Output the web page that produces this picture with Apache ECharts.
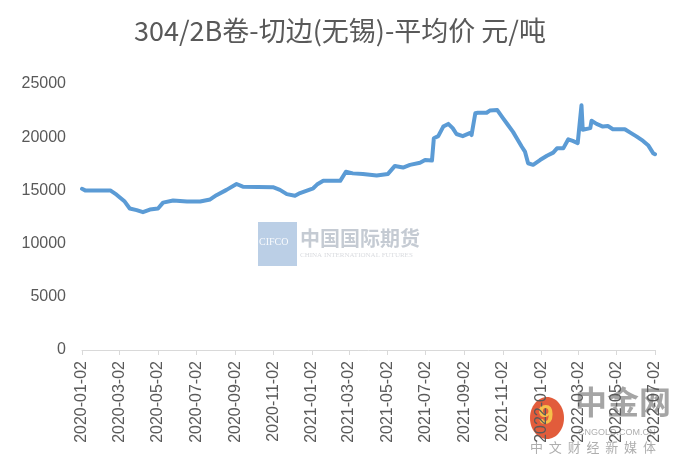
<!DOCTYPE html>
<html>
<head>
<meta charset="utf-8">
<script src="https://cdn.jsdelivr.net/npm/echarts@6/dist/echarts.min.js"></script>
<style>html,body{margin:0;padding:0;background:#fff;}#c{width:680px;height:469px;}</style>
</head>
<body>
<div id="c"></div>
<script>
var titleText = '304/2B卷-切边(无锡)-平均价 元/吨';
var startDate = '2020-01-02';
var endDate = '2022-07-02';
var yTicks = [0, 5000, 10000, 15000, 20000, 25000];

var pointDates = [
'2020-01-02','2020-01-07','2020-02-16','2020-02-26','2020-03-10','2020-03-18','2020-03-29','2020-04-08','2020-04-19','2020-05-02',
'2020-05-10','2020-05-26','2020-06-17','2020-07-08','2020-07-24','2020-08-03','2020-08-19','2020-09-04','2020-09-14','2020-11-01',
'2020-11-12','2020-11-23','2020-12-06','2020-12-14','2021-01-04','2021-01-10','2021-01-20','2021-02-16','2021-02-25','2021-03-08',
'2021-03-24','2021-04-15','2021-05-03','2021-05-14','2021-05-27','2021-06-07','2021-06-23','2021-07-01','2021-07-12','2021-07-15',
'2021-07-22','2021-07-30','2021-08-07','2021-08-14','2021-08-20','2021-08-30','2021-09-11','2021-09-13','2021-09-19','2021-09-23',
'2021-10-07','2021-10-12','2021-10-24','2021-11-02','2021-11-10','2021-11-18','2021-11-24','2021-12-02','2021-12-07','2021-12-12',
'2021-12-20','2021-12-31','2022-01-11','2022-01-21','2022-01-27','2022-02-06','2022-02-14','2022-02-21','2022-03-01','2022-03-07',
'2022-03-09','2022-03-21','2022-03-23','2022-03-31','2022-04-10','2022-04-18','2022-04-26','2022-05-15','2022-05-23','2022-06-03',
'2022-06-13','2022-06-21','2022-06-29','2022-07-02'
];
var pointValues = [
15150,15000,15000,14600,13950,13300,13150,12950,13200,13300,
13850,14050,13950,13950,14150,14550,15050,15600,15350,15300,
15050,14650,14500,14750,15200,15550,15900,15900,16750,16600,
16550,16400,16550,17300,17150,17400,17600,17850,17800,19900,
20100,21000,21250,20850,20300,20100,20400,20200,22250,22300,
22300,22500,22550,21800,21150,20500,19900,19100,18650,17550,
17400,17850,18250,18550,18950,18950,19800,19650,19450,23000,
20700,20850,21550,21250,21000,21050,20750,20750,20450,20050,
19650,19250,18500,18400
];

// calendar-day categories
function pad(n){return n<10?'0'+n:''+n;}
var days = [];
(function(){
  var d = new Date(startDate + 'T00:00:00Z');
  var e = new Date(endDate + 'T00:00:00Z');
  while (d <= e) {
    days.push(d.getUTCFullYear() + '-' + pad(d.getUTCMonth()+1) + '-' + pad(d.getUTCDate()));
    d.setUTCDate(d.getUTCDate()+1);
  }
})();
function isMajor(v){
  var m = parseInt(v.substr(5,2),10);
  return v.substr(8,2) === '02' && (m % 2 === 1);
}
var seriesData = pointDates.map(function(d,i){return [d, pointValues[i]];});

var chart = echarts.init(document.getElementById('c'), null, {renderer:'canvas'});
var txt = '#595959';
chart.setOption({
  animation:false,
  backgroundColor:'#fff',
  title:{
    text:titleText, left:'center', top:12,
    textStyle:{fontFamily:'Noto Sans CJK SC', fontSize:27, fontWeight:'normal', color:txt}
  },
  grid:{left:82, right:25, top:84, bottom:119, containLabel:false},
  xAxis:{
    type:'category', data:days, boundaryGap:false,
    axisLine:{lineStyle:{color:'#d9d9d9', width:1}},
    axisTick:{show:true, interval:function(i,v){return isMajor(v);}, length:5, lineStyle:{color:'#d9d9d9'}},
    axisLabel:{interval:function(i,v){return isMajor(v);}, rotate:90, color:txt, fontSize:16, fontFamily:'Liberation Sans', margin:11},
    splitLine:{show:false}
  },
  yAxis:{
    type:'value', min:yTicks[0], max:yTicks[yTicks.length-1], interval:5000,
    axisLine:{show:false}, axisTick:{show:false}, splitLine:{show:false},
    axisLabel:{color:txt, fontSize:16, fontFamily:'Liberation Sans', margin:16, formatter:function(v){return String(v);}}
  },
  graphic:[
    {type:'rect', left:258, top:222, shape:{width:39, height:44}, style:{fill:'rgba(120,160,205,0.5)'}, silent:true},
    {type:'text', left:259, top:237, style:{text:'CIFCO', fill:'rgba(255,255,255,0.9)', font:'10px "Liberation Serif"'}, silent:true},
    {type:'text', left:300, top:228, style:{text:'中国国际期货', fill:'rgba(150,160,175,0.55)', font:'bold 20px "Noto Sans CJK SC"'}, silent:true},
    {type:'text', left:300, top:252, style:{text:'CHINA INTERNATIONAL FUTURES', fill:'rgba(170,175,185,0.45)', font:'7px "Liberation Serif"'}, silent:true},
    {type:'ellipse', shape:{cx:547, cy:418, rx:17, ry:21}, style:{fill:'#df4a26', opacity:0.9}, silent:true},
    {type:'text', left:538, top:402, style:{text:'9', fill:'#f6c04a', font:'bold 28px "Liberation Sans"'}, silent:true},
    {type:'text', left:575, top:386, style:{text:'中金网', fill:'rgba(135,135,135,0.75)', font:'bold 32px "Noto Sans CJK SC"'}, silent:true},
    {type:'text', left:578, top:428, style:{text:'CNGOLD.COM.CN', fill:'rgba(140,140,140,0.7)', font:'9px "Liberation Sans"'}, silent:true},
    {type:'text', left:530, top:441, style:{text:'中  文  财  经  新  媒  体', fill:'rgba(140,140,140,0.7)', font:'13px "Noto Sans CJK SC"'}, silent:true}
  ],
  series:[{
    type:'line', data:seriesData, showSymbol:false, smooth:false,
    lineStyle:{color:'#5b9bd5', width:4, join:'round', cap:'round'},
    itemStyle:{color:'#5b9bd5'}
  }]
});
</script>
</body>
</html>
